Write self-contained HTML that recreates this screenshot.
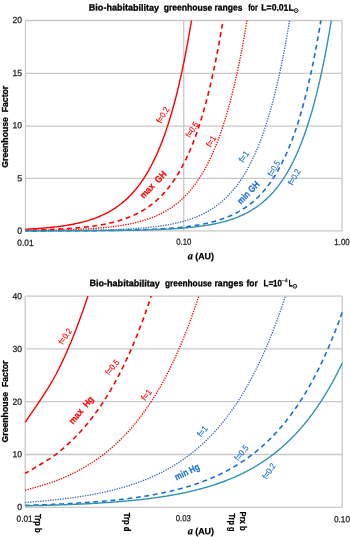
<!DOCTYPE html>
<html><head><meta charset="utf-8"><style>
html,body{margin:0;padding:0;background:#fff;width:350px;height:537px;overflow:hidden}
svg{display:block;font-family:"Liberation Sans",sans-serif;will-change:transform}
</style></head><body>
<svg width="350" height="537" viewBox="0 0 350 537">
<rect width="350" height="537" fill="#fff"/>
<line x1="25.5" y1="230.90" x2="342.0" y2="230.90" stroke="#c8c8c8" stroke-width="1.3"/>
<line x1="25.5" y1="178.40" x2="342.0" y2="178.40" stroke="#c8c8c8" stroke-width="1.3"/>
<line x1="25.5" y1="126.05" x2="342.0" y2="126.05" stroke="#c8c8c8" stroke-width="1.3"/>
<line x1="25.5" y1="73.35" x2="342.0" y2="73.35" stroke="#c8c8c8" stroke-width="1.3"/>
<line x1="25.5" y1="20.50" x2="342.0" y2="20.50" stroke="#c8c8c8" stroke-width="1.3"/>
<line x1="25.50" y1="20.5" x2="25.50" y2="230.9" stroke="#c8c8c8" stroke-width="1.3"/>
<line x1="342.00" y1="20.5" x2="342.00" y2="230.9" stroke="#c8c8c8" stroke-width="1.3"/>
<line x1="183.75" y1="20.5" x2="183.75" y2="230.9" stroke="#c8c8c8" stroke-width="1.3"/>
<path d="M25.50,229.22 L26.82,229.15 L28.14,229.09 L29.46,229.01 L30.78,228.94 L32.09,228.86 L33.41,228.78 L34.73,228.70 L36.05,228.62 L37.37,228.53 L38.69,228.43 L40.01,228.34 L41.33,228.24 L42.64,228.13 L43.96,228.02 L45.28,227.91 L46.60,227.80 L47.92,227.67 L49.24,227.55 L50.56,227.42 L51.88,227.28 L53.19,227.14 L54.51,226.99 L55.83,226.84 L57.15,226.68 L58.47,226.51 L59.79,226.34 L61.11,226.16 L62.43,225.98 L63.74,225.79 L65.06,225.59 L66.38,225.38 L67.70,225.16 L69.02,224.94 L70.34,224.71 L71.66,224.46 L72.98,224.21 L74.29,223.95 L75.61,223.68 L76.93,223.40 L78.25,223.10 L79.57,222.80 L80.89,222.48 L82.21,222.15 L83.53,221.81 L84.84,221.45 L86.16,221.08 L87.48,220.70 L88.80,220.30 L90.12,219.88 L91.44,219.45 L92.76,219.01 L94.08,218.54 L95.39,218.06 L96.71,217.55 L98.03,217.03 L99.35,216.49 L100.67,215.93 L101.99,215.34 L103.31,214.73 L104.62,214.10 L105.94,213.44 L107.26,212.76 L108.58,212.05 L109.90,211.31 L111.22,210.55 L112.54,209.75 L113.86,208.92 L115.17,208.06 L116.49,207.17 L117.81,206.24 L119.13,205.28 L120.45,204.27 L121.77,203.23 L123.09,202.15 L124.41,201.02 L125.72,199.86 L127.04,198.64 L128.36,197.38 L129.68,196.07 L131.00,194.70 L132.32,193.29 L133.64,191.82 L134.96,190.29 L136.27,188.70 L137.59,187.05 L138.91,185.33 L140.23,183.55 L141.55,181.70 L142.87,179.77 L144.19,177.77 L145.51,175.69 L146.82,173.53 L148.14,171.29 L149.46,168.96 L150.78,166.53 L152.10,164.02 L153.42,161.40 L154.74,158.68 L156.06,155.86 L157.38,152.92 L158.69,149.87 L160.01,146.70 L161.33,143.40 L162.65,139.98 L163.97,136.42 L165.29,132.73 L166.61,128.89 L167.92,124.90 L169.24,120.75 L170.56,116.44 L171.88,111.96 L173.20,107.31 L174.52,102.47 L175.84,97.45 L177.16,92.23 L178.48,86.80 L179.79,81.17 L181.11,75.31 L182.43,69.22 L183.75,62.90 L185.07,56.32 L186.39,49.49 L187.71,42.40 L189.03,35.02 L190.34,27.36 L191.48,20.50" stroke="#ff0000" stroke-width="1.4" fill="none"/>
<path d="M25.50,230.23 L26.82,230.20 L28.14,230.17 L29.46,230.15 L30.78,230.12 L32.09,230.09 L33.41,230.05 L34.73,230.02 L36.05,229.99 L37.37,229.95 L38.69,229.91 L40.01,229.87 L41.33,229.83 L42.64,229.79 L43.96,229.75 L45.28,229.70 L46.60,229.66 L47.92,229.61 L49.24,229.56 L50.56,229.51 L51.88,229.45 L53.19,229.40 L54.51,229.34 L55.83,229.28 L57.15,229.21 L58.47,229.15 L59.79,229.08 L61.11,229.01 L62.43,228.93 L63.74,228.85 L65.06,228.77 L66.38,228.69 L67.70,228.60 L69.02,228.51 L70.34,228.42 L71.66,228.32 L72.98,228.22 L74.29,228.12 L75.61,228.01 L76.93,227.90 L78.25,227.78 L79.57,227.66 L80.89,227.53 L82.21,227.40 L83.53,227.26 L84.84,227.12 L86.16,226.97 L87.48,226.82 L88.80,226.66 L90.12,226.49 L91.44,226.32 L92.76,226.14 L94.08,225.95 L95.39,225.76 L96.71,225.56 L98.03,225.35 L99.35,225.13 L100.67,224.91 L101.99,224.67 L103.31,224.43 L104.62,224.18 L105.94,223.91 L107.26,223.64 L108.58,223.36 L109.90,223.06 L111.22,222.76 L112.54,222.44 L113.86,222.11 L115.17,221.76 L116.49,221.40 L117.81,221.03 L119.13,220.65 L120.45,220.25 L121.77,219.83 L123.09,219.40 L124.41,218.95 L125.72,218.48 L127.04,217.99 L128.36,217.49 L129.68,216.96 L131.00,216.42 L132.32,215.85 L133.64,215.26 L134.96,214.65 L136.27,214.01 L137.59,213.35 L138.91,212.67 L140.23,211.95 L141.55,211.21 L142.87,210.44 L144.19,209.64 L145.51,208.81 L146.82,207.95 L148.14,207.05 L149.46,206.12 L150.78,205.15 L152.10,204.14 L153.42,203.09 L154.74,202.00 L156.06,200.87 L157.38,199.70 L158.69,198.48 L160.01,197.21 L161.33,195.89 L162.65,194.52 L163.97,193.10 L165.29,191.62 L166.61,190.08 L167.92,188.49 L169.24,186.83 L170.56,185.10 L171.88,183.31 L173.20,181.45 L174.52,179.51 L175.84,177.50 L177.16,175.41 L178.48,173.24 L179.79,170.99 L181.11,168.64 L182.43,166.21 L183.75,163.68 L185.07,161.05 L186.39,158.31 L187.71,155.47 L189.03,152.52 L190.34,149.46 L191.66,146.27 L192.98,142.96 L194.30,139.52 L195.62,135.95 L196.94,132.23 L198.26,128.37 L199.58,124.36 L200.89,120.19 L202.21,115.86 L203.53,111.36 L204.85,106.68 L206.17,101.82 L207.49,96.77 L208.81,91.53 L210.12,86.07 L211.44,80.41 L212.76,74.52 L214.08,68.40 L215.40,62.04 L216.72,55.44 L218.04,48.57 L219.36,41.44 L220.68,34.03 L221.99,26.33 L222.95,20.50" stroke="#ff0000" stroke-width="1.6" fill="none" stroke-dasharray="4.9 3.665" stroke-dashoffset="1.452"/>
<path d="M25.50,230.57 L26.82,230.55 L28.14,230.54 L29.46,230.52 L30.78,230.51 L32.09,230.49 L33.41,230.48 L34.73,230.46 L36.05,230.45 L37.37,230.43 L38.69,230.41 L40.01,230.39 L41.33,230.37 L42.64,230.35 L43.96,230.33 L45.28,230.31 L46.60,230.28 L47.92,230.26 L49.24,230.23 L50.56,230.21 L51.88,230.18 L53.19,230.15 L54.51,230.12 L55.83,230.09 L57.15,230.06 L58.47,230.03 L59.79,229.99 L61.11,229.96 L62.43,229.92 L63.74,229.88 L65.06,229.84 L66.38,229.80 L67.70,229.76 L69.02,229.71 L70.34,229.67 L71.66,229.62 L72.98,229.57 L74.29,229.52 L75.61,229.46 L76.93,229.41 L78.25,229.35 L79.57,229.29 L80.89,229.22 L82.21,229.16 L83.53,229.09 L84.84,229.02 L86.16,228.95 L87.48,228.87 L88.80,228.79 L90.12,228.71 L91.44,228.62 L92.76,228.53 L94.08,228.44 L95.39,228.34 L96.71,228.24 L98.03,228.14 L99.35,228.03 L100.67,227.92 L101.99,227.80 L103.31,227.68 L104.62,227.55 L105.94,227.42 L107.26,227.29 L108.58,227.15 L109.90,227.00 L111.22,226.85 L112.54,226.69 L113.86,226.52 L115.17,226.35 L116.49,226.17 L117.81,225.99 L119.13,225.80 L120.45,225.60 L121.77,225.39 L123.09,225.17 L124.41,224.95 L125.72,224.72 L127.04,224.48 L128.36,224.23 L129.68,223.96 L131.00,223.69 L132.32,223.41 L133.64,223.12 L134.96,222.81 L136.27,222.50 L137.59,222.17 L138.91,221.83 L140.23,221.47 L141.55,221.10 L142.87,220.72 L144.19,220.32 L145.51,219.91 L146.82,219.48 L148.14,219.03 L149.46,218.57 L150.78,218.08 L152.10,217.58 L153.42,217.06 L154.74,216.52 L156.06,215.96 L157.38,215.37 L158.69,214.76 L160.01,214.13 L161.33,213.48 L162.65,212.80 L163.97,212.09 L165.29,211.35 L166.61,210.59 L167.92,209.79 L169.24,208.97 L170.56,208.11 L171.88,207.22 L173.20,206.29 L174.52,205.33 L175.84,204.33 L177.16,203.29 L178.48,202.21 L179.79,201.08 L181.11,199.92 L182.43,198.71 L183.75,197.45 L185.07,196.14 L186.39,194.78 L187.71,193.36 L189.03,191.90 L190.34,190.37 L191.66,188.78 L192.98,187.14 L194.30,185.42 L195.62,183.65 L196.94,181.80 L198.26,179.88 L199.58,177.88 L200.89,175.81 L202.21,173.65 L203.53,171.41 L204.85,169.08 L206.17,166.66 L207.49,164.15 L208.81,161.54 L210.12,158.83 L211.44,156.01 L212.76,153.08 L214.08,150.03 L215.40,146.87 L216.72,143.58 L218.04,140.16 L219.36,136.61 L220.68,132.93 L221.99,129.09 L223.31,125.11 L224.63,120.97 L225.95,116.67 L227.27,112.20 L228.59,107.56 L229.91,102.73 L231.22,97.72 L232.54,92.51 L233.86,87.09 L235.18,81.47 L236.50,75.62 L237.82,69.55 L239.14,63.23 L240.46,56.68 L241.78,49.86 L243.09,42.78 L244.41,35.42 L245.73,27.77 L246.94,20.50" stroke="#ff0000" stroke-width="1.35" fill="none" stroke-dasharray="1.3 1.2"/>
<path d="M25.50,230.80 L26.82,230.80 L28.14,230.80 L29.46,230.79 L30.78,230.79 L32.09,230.78 L33.41,230.78 L34.73,230.77 L36.05,230.77 L37.37,230.76 L38.69,230.76 L40.01,230.75 L41.33,230.75 L42.64,230.74 L43.96,230.73 L45.28,230.73 L46.60,230.72 L47.92,230.71 L49.24,230.71 L50.56,230.70 L51.88,230.69 L53.19,230.68 L54.51,230.67 L55.83,230.67 L57.15,230.66 L58.47,230.65 L59.79,230.64 L61.11,230.63 L62.43,230.62 L63.74,230.61 L65.06,230.59 L66.38,230.58 L67.70,230.57 L69.02,230.56 L70.34,230.54 L71.66,230.53 L72.98,230.51 L74.29,230.50 L75.61,230.48 L76.93,230.47 L78.25,230.45 L79.57,230.43 L80.89,230.41 L82.21,230.40 L83.53,230.38 L84.84,230.36 L86.16,230.33 L87.48,230.31 L88.80,230.29 L90.12,230.27 L91.44,230.24 L92.76,230.21 L94.08,230.19 L95.39,230.16 L96.71,230.13 L98.03,230.10 L99.35,230.07 L100.67,230.04 L101.99,230.00 L103.31,229.97 L104.62,229.93 L105.94,229.89 L107.26,229.85 L108.58,229.81 L109.90,229.77 L111.22,229.73 L112.54,229.68 L113.86,229.63 L115.17,229.58 L116.49,229.53 L117.81,229.48 L119.13,229.42 L120.45,229.37 L121.77,229.31 L123.09,229.24 L124.41,229.18 L125.72,229.11 L127.04,229.04 L128.36,228.97 L129.68,228.89 L131.00,228.81 L132.32,228.73 L133.64,228.65 L134.96,228.56 L136.27,228.47 L137.59,228.37 L138.91,228.27 L140.23,228.17 L141.55,228.07 L142.87,227.95 L144.19,227.84 L145.51,227.72 L146.82,227.60 L148.14,227.47 L149.46,227.33 L150.78,227.19 L152.10,227.05 L153.42,226.90 L154.74,226.74 L156.06,226.58 L157.38,226.41 L158.69,226.23 L160.01,226.05 L161.33,225.86 L162.65,225.66 L163.97,225.46 L165.29,225.24 L166.61,225.02 L167.92,224.79 L169.24,224.55 L170.56,224.31 L171.88,224.05 L173.20,223.78 L174.52,223.50 L175.84,223.21 L177.16,222.91 L178.48,222.60 L179.79,222.27 L181.11,221.94 L182.43,221.59 L183.75,221.22 L185.07,220.84 L186.39,220.45 L187.71,220.04 L189.03,219.62 L190.34,219.17 L191.66,218.72 L192.98,218.24 L194.30,217.74 L195.62,217.23 L196.94,216.69 L198.26,216.14 L199.58,215.56 L200.89,214.96 L202.21,214.34 L203.53,213.69 L204.85,213.02 L206.17,212.32 L207.49,211.59 L208.81,210.83 L210.12,210.05 L211.44,209.23 L212.76,208.39 L214.08,207.50 L215.40,206.59 L216.72,205.64 L218.04,204.65 L219.36,203.62 L220.68,202.56 L221.99,201.45 L223.31,200.29 L224.63,199.10 L225.95,197.85 L227.27,196.56 L228.59,195.22 L229.91,193.82 L231.22,192.37 L232.54,190.86 L233.86,189.30 L235.18,187.67 L236.50,185.98 L237.82,184.22 L239.14,182.39 L240.46,180.50 L241.78,178.52 L243.09,176.47 L244.41,174.35 L245.73,172.13 L247.05,169.83 L248.37,167.44 L249.69,164.96 L251.01,162.38 L252.32,159.70 L253.64,156.92 L254.96,154.02 L256.28,151.01 L257.60,147.89 L258.92,144.64 L260.24,141.27 L261.56,137.76 L262.88,134.12 L264.19,130.33 L265.51,126.40 L266.83,122.31 L268.15,118.06 L269.47,113.64 L270.79,109.06 L272.11,104.29 L273.43,99.34 L274.74,94.19 L276.06,88.84 L277.38,83.28 L278.70,77.51 L280.02,71.51 L281.34,65.27 L282.66,58.79 L283.98,52.06 L285.29,45.06 L286.61,37.79 L287.93,30.24 L289.25,22.39 L289.55,20.50" stroke="#3d68b8" stroke-width="1.35" fill="none" stroke-dasharray="1.3 1.2"/>
<path d="M25.50,230.86 L26.82,230.86 L28.14,230.86 L29.46,230.86 L30.78,230.85 L32.09,230.85 L33.41,230.85 L34.73,230.85 L36.05,230.85 L37.37,230.85 L38.69,230.84 L40.01,230.84 L41.33,230.84 L42.64,230.84 L43.96,230.83 L45.28,230.83 L46.60,230.83 L47.92,230.83 L49.24,230.82 L50.56,230.82 L51.88,230.82 L53.19,230.81 L54.51,230.81 L55.83,230.81 L57.15,230.80 L58.47,230.80 L59.79,230.79 L61.11,230.79 L62.43,230.79 L63.74,230.78 L65.06,230.78 L66.38,230.77 L67.70,230.77 L69.02,230.76 L70.34,230.76 L71.66,230.75 L72.98,230.75 L74.29,230.74 L75.61,230.73 L76.93,230.73 L78.25,230.72 L79.57,230.71 L80.89,230.70 L82.21,230.70 L83.53,230.69 L84.84,230.68 L86.16,230.67 L87.48,230.66 L88.80,230.65 L90.12,230.64 L91.44,230.63 L92.76,230.62 L94.08,230.61 L95.39,230.60 L96.71,230.59 L98.03,230.58 L99.35,230.57 L100.67,230.55 L101.99,230.54 L103.31,230.53 L104.62,230.51 L105.94,230.50 L107.26,230.48 L108.58,230.46 L109.90,230.45 L111.22,230.43 L112.54,230.41 L113.86,230.39 L115.17,230.37 L116.49,230.35 L117.81,230.33 L119.13,230.31 L120.45,230.28 L121.77,230.26 L123.09,230.23 L124.41,230.21 L125.72,230.18 L127.04,230.15 L128.36,230.12 L129.68,230.09 L131.00,230.06 L132.32,230.03 L133.64,229.99 L134.96,229.96 L136.27,229.92 L137.59,229.88 L138.91,229.84 L140.23,229.80 L141.55,229.76 L142.87,229.72 L144.19,229.67 L145.51,229.62 L146.82,229.57 L148.14,229.52 L149.46,229.46 L150.78,229.41 L152.10,229.35 L153.42,229.29 L154.74,229.23 L156.06,229.16 L157.38,229.09 L158.69,229.02 L160.01,228.95 L161.33,228.87 L162.65,228.79 L163.97,228.71 L165.29,228.63 L166.61,228.54 L167.92,228.44 L169.24,228.35 L170.56,228.25 L171.88,228.14 L173.20,228.04 L174.52,227.92 L175.84,227.81 L177.16,227.69 L178.48,227.56 L179.79,227.43 L181.11,227.30 L182.43,227.15 L183.75,227.01 L185.07,226.86 L186.39,226.70 L187.71,226.53 L189.03,226.36 L190.34,226.18 L191.66,226.00 L192.98,225.81 L194.30,225.61 L195.62,225.40 L196.94,225.19 L198.26,224.96 L199.58,224.73 L200.89,224.49 L202.21,224.24 L203.53,223.98 L204.85,223.71 L206.17,223.43 L207.49,223.13 L208.81,222.83 L210.12,222.51 L211.44,222.19 L212.76,221.85 L214.08,221.49 L215.40,221.12 L216.72,220.74 L218.04,220.34 L219.36,219.93 L220.68,219.50 L221.99,219.05 L223.31,218.59 L224.63,218.11 L225.95,217.61 L227.27,217.09 L228.59,216.55 L229.91,215.99 L231.22,215.40 L232.54,214.80 L233.86,214.17 L235.18,213.51 L236.50,212.83 L237.82,212.13 L239.14,211.39 L240.46,210.63 L241.78,209.84 L243.09,209.01 L244.41,208.16 L245.73,207.27 L247.05,206.34 L248.37,205.38 L249.69,204.38 L251.01,203.34 L252.32,202.27 L253.64,201.15 L254.96,199.98 L256.28,198.77 L257.60,197.52 L258.92,196.21 L260.24,194.85 L261.56,193.44 L262.88,191.98 L264.19,190.45 L265.51,188.87 L266.83,187.23 L268.15,185.52 L269.47,183.74 L270.79,181.90 L272.11,179.98 L273.43,177.99 L274.74,175.92 L276.06,173.77 L277.38,171.53 L278.70,169.21 L280.02,166.80 L281.34,164.29 L282.66,161.68 L283.98,158.97 L285.29,156.16 L286.61,153.24 L287.93,150.20 L289.25,147.04 L290.57,143.76 L291.89,140.35 L293.21,136.81 L294.52,133.13 L295.84,129.30 L297.16,125.33 L298.48,121.20 L299.80,116.91 L301.12,112.45 L302.44,107.81 L303.76,103.00 L305.07,97.99 L306.39,92.79 L307.71,87.39 L309.03,81.77 L310.35,75.94 L311.67,69.88 L312.99,63.58 L314.31,57.03 L315.62,50.23 L316.94,43.16 L318.26,35.82 L319.58,28.19 L320.86,20.50" stroke="#1a6fcf" stroke-width="1.6" fill="none" stroke-dasharray="4.9 3.665" stroke-dashoffset="1.96"/>
<path d="M25.50,230.87 L26.82,230.87 L28.14,230.87 L29.46,230.87 L30.78,230.87 L32.09,230.87 L33.41,230.86 L34.73,230.86 L36.05,230.86 L37.37,230.86 L38.69,230.86 L40.01,230.86 L41.33,230.85 L42.64,230.85 L43.96,230.85 L45.28,230.85 L46.60,230.85 L47.92,230.84 L49.24,230.84 L50.56,230.84 L51.88,230.84 L53.19,230.84 L54.51,230.83 L55.83,230.83 L57.15,230.83 L58.47,230.83 L59.79,230.82 L61.11,230.82 L62.43,230.82 L63.74,230.81 L65.06,230.81 L66.38,230.81 L67.70,230.80 L69.02,230.80 L70.34,230.79 L71.66,230.79 L72.98,230.79 L74.29,230.78 L75.61,230.78 L76.93,230.77 L78.25,230.77 L79.57,230.76 L80.89,230.76 L82.21,230.75 L83.53,230.74 L84.84,230.74 L86.16,230.73 L87.48,230.73 L88.80,230.72 L90.12,230.71 L91.44,230.70 L92.76,230.70 L94.08,230.69 L95.39,230.68 L96.71,230.67 L98.03,230.66 L99.35,230.65 L100.67,230.64 L101.99,230.63 L103.31,230.62 L104.62,230.61 L105.94,230.60 L107.26,230.59 L108.58,230.58 L109.90,230.57 L111.22,230.55 L112.54,230.54 L113.86,230.52 L115.17,230.51 L116.49,230.49 L117.81,230.48 L119.13,230.46 L120.45,230.44 L121.77,230.43 L123.09,230.41 L124.41,230.39 L125.72,230.37 L127.04,230.35 L128.36,230.33 L129.68,230.30 L131.00,230.28 L132.32,230.26 L133.64,230.23 L134.96,230.21 L136.27,230.18 L137.59,230.15 L138.91,230.12 L140.23,230.09 L141.55,230.06 L142.87,230.03 L144.19,229.99 L145.51,229.96 L146.82,229.92 L148.14,229.88 L149.46,229.84 L150.78,229.80 L152.10,229.76 L153.42,229.71 L154.74,229.67 L156.06,229.62 L157.38,229.57 L158.69,229.51 L160.01,229.46 L161.33,229.40 L162.65,229.35 L163.97,229.28 L165.29,229.22 L166.61,229.16 L167.92,229.09 L169.24,229.02 L170.56,228.94 L171.88,228.87 L173.20,228.79 L174.52,228.70 L175.84,228.62 L177.16,228.53 L178.48,228.44 L179.79,228.34 L181.11,228.24 L182.43,228.14 L183.75,228.03 L185.07,227.92 L186.39,227.80 L187.71,227.68 L189.03,227.55 L190.34,227.42 L191.66,227.28 L192.98,227.14 L194.30,227.00 L195.62,226.84 L196.94,226.68 L198.26,226.52 L199.58,226.35 L200.89,226.17 L202.21,225.99 L203.53,225.79 L204.85,225.59 L206.17,225.39 L207.49,225.17 L208.81,224.95 L210.12,224.71 L211.44,224.47 L212.76,224.22 L214.08,223.96 L215.40,223.69 L216.72,223.40 L218.04,223.11 L219.36,222.81 L220.68,222.49 L221.99,222.16 L223.31,221.82 L224.63,221.46 L225.95,221.09 L227.27,220.71 L228.59,220.31 L229.91,219.90 L231.22,219.47 L232.54,219.02 L233.86,218.55 L235.18,218.07 L236.50,217.57 L237.82,217.05 L239.14,216.51 L240.46,215.94 L241.78,215.36 L243.09,214.75 L244.41,214.12 L245.73,213.46 L247.05,212.78 L248.37,212.07 L249.69,211.33 L251.01,210.57 L252.32,209.77 L253.64,208.95 L254.96,208.09 L256.28,207.19 L257.60,206.27 L258.92,205.30 L260.24,204.30 L261.56,203.26 L262.88,202.18 L264.19,201.06 L265.51,199.89 L266.83,198.68 L268.15,197.42 L269.47,196.11 L270.79,194.74 L272.11,193.33 L273.43,191.86 L274.74,190.33 L276.06,188.75 L277.38,187.10 L278.70,185.38 L280.02,183.60 L281.34,181.75 L282.66,179.83 L283.98,177.83 L285.29,175.75 L286.61,173.60 L287.93,171.36 L289.25,169.03 L290.57,166.60 L291.89,164.09 L293.21,161.48 L294.52,158.76 L295.84,155.94 L297.16,153.00 L298.48,149.96 L299.80,146.79 L301.12,143.50 L302.44,140.08 L303.76,136.53 L305.07,132.84 L306.39,129.00 L307.71,125.01 L309.03,120.87 L310.35,116.57 L311.67,112.09 L312.99,107.44 L314.31,102.61 L315.62,97.60 L316.94,92.38 L318.26,86.96 L319.58,81.33 L320.90,75.48 L322.22,69.40 L323.54,63.08 L324.86,56.51 L326.18,49.69 L327.49,42.60 L328.81,35.24 L330.13,27.58 L331.31,20.50" stroke="#3392b0" stroke-width="1.4" fill="none"/>
<line x1="25.2" y1="507.30" x2="342.2" y2="507.30" stroke="#c8c8c8" stroke-width="1.3"/>
<line x1="25.2" y1="454.50" x2="342.2" y2="454.50" stroke="#c8c8c8" stroke-width="1.3"/>
<line x1="25.2" y1="401.70" x2="342.2" y2="401.70" stroke="#c8c8c8" stroke-width="1.3"/>
<line x1="25.2" y1="348.90" x2="342.2" y2="348.90" stroke="#c8c8c8" stroke-width="1.3"/>
<line x1="25.2" y1="296.10" x2="342.2" y2="296.10" stroke="#c8c8c8" stroke-width="1.3"/>
<line x1="25.20" y1="296.1" x2="25.20" y2="507.3" stroke="#c8c8c8" stroke-width="1.3"/>
<line x1="342.20" y1="296.1" x2="342.20" y2="507.3" stroke="#c8c8c8" stroke-width="1.3"/>
<path d="M25.20,422.29 L26.70,420.02 L28.61,417.21 L30.85,413.95 L33.37,410.29 L36.11,406.30 L38.99,402.04 L41.96,397.57 L44.96,392.97 L47.92,388.30 L50.77,383.61 L53.46,378.98 L55.92,374.48 L58.22,370.01 L60.47,365.47 L62.68,360.86 L64.85,356.17 L66.97,351.42 L69.06,346.58 L71.12,341.67 L73.15,336.69 L75.15,331.64 L77.13,326.51 L79.08,321.31 L81.02,316.03 L82.93,310.68 L84.82,305.26 L86.67,299.76 L87.86,296.10" stroke="#ff0000" stroke-width="1.4" fill="none"/>
<path d="M25.20,473.40 L26.70,472.49 L28.61,471.38 L30.85,470.08 L33.37,468.62 L36.11,467.02 L38.99,465.33 L41.96,463.55 L44.96,461.71 L47.92,459.85 L50.77,457.98 L53.46,456.13 L55.92,454.34 L58.22,452.55 L60.47,450.75 L62.68,448.91 L64.85,447.04 L66.97,445.14 L69.06,443.21 L71.12,441.26 L73.15,439.27 L75.15,437.25 L77.13,435.21 L79.08,433.13 L81.02,431.03 L82.93,428.90 L84.82,426.73 L86.67,424.54 L88.49,422.32 L90.28,420.07 L92.05,417.79 L93.80,415.48 L95.52,413.14 L97.23,410.77 L98.92,408.37 L100.59,405.95 L102.24,403.49 L103.88,401.00 L105.50,398.49 L107.09,395.94 L108.66,393.37 L110.21,390.76 L111.75,388.13 L113.26,385.47 L114.76,382.77 L116.25,380.05 L117.72,377.30 L119.18,374.52 L120.63,371.71 L122.06,368.87 L123.47,366.00 L124.87,363.10 L126.26,360.18 L127.62,357.22 L128.98,354.23 L130.32,351.22 L131.64,348.17 L132.96,345.09 L134.26,341.99 L135.56,338.86 L136.84,335.69 L138.11,332.50 L139.37,329.28 L140.62,326.03 L141.85,322.75 L143.08,319.44 L144.29,316.10 L145.49,312.73 L146.68,309.33 L147.86,305.90 L149.03,302.44 L150.19,298.96 L151.13,296.10" stroke="#ff0000" stroke-width="1.6" fill="none" stroke-dasharray="4.9 3.665" stroke-dashoffset="0.907"/>
<path d="M25.20,490.35 L26.70,489.90 L28.61,489.34 L30.85,488.69 L33.37,487.96 L36.11,487.16 L38.99,486.31 L41.96,485.42 L44.96,484.51 L47.92,483.57 L50.77,482.64 L53.46,481.72 L55.92,480.82 L58.22,479.93 L60.47,479.02 L62.68,478.10 L64.85,477.17 L66.97,476.22 L69.06,475.26 L71.12,474.28 L73.15,473.28 L75.15,472.28 L77.13,471.25 L79.08,470.22 L81.02,469.17 L82.93,468.10 L84.82,467.02 L86.67,465.92 L88.49,464.81 L90.28,463.68 L92.05,462.54 L93.80,461.39 L95.52,460.22 L97.23,459.04 L98.92,457.84 L100.59,456.62 L102.24,455.39 L103.88,454.15 L105.50,452.89 L107.09,451.62 L108.66,450.33 L110.21,449.03 L111.75,447.71 L113.26,446.38 L114.76,445.04 L116.25,443.68 L117.72,442.30 L119.18,440.91 L120.63,439.50 L122.06,438.09 L123.47,436.65 L124.87,435.20 L126.26,433.74 L127.62,432.26 L128.98,430.77 L130.32,429.26 L131.64,427.73 L132.96,426.20 L134.26,424.65 L135.56,423.08 L136.84,421.50 L138.11,419.90 L139.37,418.29 L140.62,416.66 L141.85,415.02 L143.08,413.37 L144.29,411.70 L145.49,410.01 L146.68,408.31 L147.86,406.60 L149.03,404.87 L150.19,403.13 L151.35,401.37 L152.49,399.60 L153.63,397.81 L154.75,396.01 L155.87,394.19 L156.97,392.36 L158.07,390.51 L159.15,388.65 L160.23,386.78 L161.30,384.88 L162.36,382.98 L163.42,381.06 L164.47,379.12 L165.51,377.18 L166.54,375.21 L167.57,373.23 L168.58,371.24 L169.59,369.23 L170.59,367.21 L171.58,365.17 L172.57,363.12 L173.55,361.05 L174.52,358.97 L175.49,356.87 L176.45,354.76 L177.40,352.63 L178.35,350.49 L179.29,348.34 L180.22,346.17 L181.15,343.98 L182.07,341.78 L182.98,339.57 L183.89,337.34 L184.79,335.10 L185.69,332.84 L186.58,330.57 L187.47,328.28 L188.35,325.98 L189.22,323.66 L190.09,321.33 L190.95,318.98 L191.81,316.62 L192.66,314.24 L193.51,311.85 L194.35,309.45 L195.19,307.03 L196.02,304.59 L196.85,302.14 L197.67,299.68 L198.49,297.20 L198.85,296.10" stroke="#ff0000" stroke-width="1.35" fill="none" stroke-dasharray="1.3 1.2"/>
<path d="M25.20,502.48 L26.70,502.35 L28.61,502.19 L30.85,502.01 L33.37,501.80 L36.11,501.57 L38.99,501.33 L41.96,501.08 L44.96,500.82 L47.92,500.55 L50.77,500.29 L53.46,500.03 L55.92,499.77 L58.22,499.52 L60.47,499.26 L62.68,499.00 L64.85,498.73 L66.97,498.46 L69.06,498.19 L71.12,497.91 L73.15,497.63 L75.15,497.34 L77.13,497.05 L79.08,496.76 L81.02,496.46 L82.93,496.16 L84.82,495.85 L86.67,495.54 L88.49,495.22 L90.28,494.90 L92.05,494.58 L93.80,494.25 L95.52,493.92 L97.23,493.58 L98.92,493.24 L100.59,492.89 L102.24,492.54 L103.88,492.19 L105.50,491.83 L107.09,491.47 L108.66,491.10 L110.21,490.73 L111.75,490.36 L113.26,489.98 L114.76,489.60 L116.25,489.21 L117.72,488.82 L119.18,488.43 L120.63,488.03 L122.06,487.62 L123.47,487.21 L124.87,486.80 L126.26,486.39 L127.62,485.97 L128.98,485.54 L130.32,485.11 L131.64,484.68 L132.96,484.24 L134.26,483.80 L135.56,483.36 L136.84,482.91 L138.11,482.45 L139.37,481.99 L140.62,481.53 L141.85,481.07 L143.08,480.60 L144.29,480.12 L145.49,479.64 L146.68,479.16 L147.86,478.67 L149.03,478.18 L150.19,477.68 L151.35,477.18 L152.49,476.68 L153.63,476.17 L154.75,475.66 L155.87,475.14 L156.97,474.62 L158.07,474.10 L159.15,473.57 L160.23,473.03 L161.30,472.50 L162.36,471.96 L163.42,471.41 L164.47,470.86 L165.51,470.31 L166.54,469.75 L167.57,469.18 L168.58,468.62 L169.59,468.05 L170.59,467.47 L171.58,466.89 L172.57,466.31 L173.55,465.72 L174.52,465.13 L175.49,464.53 L176.45,463.93 L177.40,463.33 L178.35,462.72 L179.29,462.11 L180.22,461.49 L181.15,460.87 L182.07,460.24 L182.98,459.61 L183.89,458.98 L184.79,458.34 L185.69,457.70 L186.58,457.05 L187.47,456.40 L188.35,455.75 L189.22,455.09 L190.09,454.43 L190.95,453.76 L191.81,453.09 L192.66,452.41 L193.51,451.73 L194.35,451.05 L195.19,450.36 L196.02,449.67 L196.85,448.97 L197.67,448.27 L198.49,447.57 L199.30,446.86 L200.11,446.15 L200.91,445.43 L201.71,444.71 L202.50,443.98 L203.29,443.25 L204.07,442.52 L204.85,441.78 L205.63,441.04 L206.40,440.29 L207.17,439.54 L207.93,438.78 L208.69,438.03 L209.44,437.26 L210.19,436.49 L210.94,435.72 L211.68,434.95 L212.42,434.17 L213.15,433.38 L213.88,432.59 L214.61,431.80 L215.33,431.00 L216.05,430.20 L216.77,429.40 L217.48,428.59 L218.19,427.78 L218.89,426.96 L219.59,426.14 L220.29,425.31 L220.98,424.48 L221.67,423.64 L222.36,422.81 L223.04,421.96 L223.72,421.12 L224.40,420.27 L225.07,419.41 L225.74,418.55 L226.41,417.69 L227.07,416.82 L227.73,415.95 L228.39,415.07 L229.04,414.19 L229.69,413.31 L230.34,412.42 L230.99,411.52 L231.63,410.63 L232.27,409.72 L232.90,408.82 L233.54,407.91 L234.17,407.00 L234.80,406.08 L235.42,405.16 L236.04,404.23 L236.66,403.30 L237.27,402.36 L237.89,401.42 L238.50,400.48 L239.11,399.53 L239.71,398.58 L240.31,397.63 L240.91,396.67 L241.51,395.70 L242.11,394.73 L242.70,393.76 L243.29,392.78 L243.87,391.80 L244.46,390.82 L245.04,389.83 L245.62,388.84 L246.20,387.84 L246.77,386.84 L247.35,385.83 L247.92,384.82 L248.48,383.81 L249.05,382.79 L249.61,381.77 L250.17,380.74 L250.73,379.71 L251.29,378.67 L251.84,377.63 L252.39,376.59 L252.94,375.54 L253.49,374.49 L254.04,373.43 L254.58,372.37 L255.12,371.31 L255.66,370.24 L256.20,369.17 L256.73,368.09 L257.26,367.01 L257.79,365.92 L258.32,364.83 L258.85,363.74 L259.37,362.64 L259.89,361.54 L260.42,360.43 L260.93,359.32 L261.45,358.21 L261.97,357.09 L262.48,355.97 L262.99,354.84 L263.50,353.71 L264.00,352.57 L264.51,351.43 L265.01,350.29 L265.51,349.14 L266.01,347.99 L266.51,346.83 L267.01,345.67 L267.50,344.51 L268.00,343.34 L268.49,342.16 L268.98,340.99 L269.46,339.80 L269.95,338.62 L270.43,337.43 L270.91,336.23 L271.39,335.04 L271.87,333.83 L272.35,332.63 L272.83,331.42 L273.30,330.20 L273.77,328.98 L274.24,327.76 L274.71,326.53 L275.18,325.30 L275.65,324.06 L276.11,322.82 L276.57,321.58 L277.03,320.33 L277.49,319.08 L277.95,317.82 L278.41,316.56 L278.86,315.29 L279.32,314.02 L279.77,312.75 L280.22,311.47 L280.67,310.19 L281.12,308.90 L281.56,307.61 L282.01,306.32 L282.45,305.02 L282.89,303.72 L283.33,302.41 L283.77,301.10 L284.21,299.78 L284.65,298.46 L285.08,297.14 L285.42,296.10" stroke="#3d68b8" stroke-width="1.35" fill="none" stroke-dasharray="1.3 1.2"/>
<path d="M25.20,505.35 L26.70,505.30 L28.61,505.23 L30.85,505.16 L33.37,505.08 L36.11,504.98 L38.99,504.89 L41.96,504.78 L44.96,504.68 L47.92,504.57 L50.77,504.46 L53.46,504.36 L55.92,504.25 L58.22,504.15 L60.47,504.05 L62.68,503.94 L64.85,503.83 L66.97,503.73 L69.06,503.61 L71.12,503.50 L73.15,503.39 L75.15,503.27 L77.13,503.15 L79.08,503.03 L81.02,502.91 L82.93,502.79 L84.82,502.67 L86.67,502.54 L88.49,502.41 L90.28,502.28 L92.05,502.15 L93.80,502.02 L95.52,501.89 L97.23,501.75 L98.92,501.61 L100.59,501.47 L102.24,501.33 L103.88,501.19 L105.50,501.04 L107.09,500.90 L108.66,500.75 L110.21,500.60 L111.75,500.45 L113.26,500.29 L114.76,500.14 L116.25,499.98 L117.72,499.82 L119.18,499.66 L120.63,499.50 L122.06,499.34 L123.47,499.17 L124.87,499.01 L126.26,498.84 L127.62,498.67 L128.98,498.50 L130.32,498.32 L131.64,498.15 L132.96,497.97 L134.26,497.79 L135.56,497.61 L136.84,497.43 L138.11,497.25 L139.37,497.06 L140.62,496.88 L141.85,496.69 L143.08,496.50 L144.29,496.30 L145.49,496.11 L146.68,495.92 L147.86,495.72 L149.03,495.52 L150.19,495.32 L151.35,495.12 L152.49,494.91 L153.63,494.71 L154.75,494.50 L155.87,494.29 L156.97,494.08 L158.07,493.87 L159.15,493.65 L160.23,493.44 L161.30,493.22 L162.36,493.00 L163.42,492.78 L164.47,492.56 L165.51,492.33 L166.54,492.11 L167.57,491.88 L168.58,491.65 L169.59,491.42 L170.59,491.19 L171.58,490.95 L172.57,490.72 L173.55,490.48 L174.52,490.24 L175.49,490.00 L176.45,489.76 L177.40,489.51 L178.35,489.26 L179.29,489.02 L180.22,488.77 L181.15,488.52 L182.07,488.26 L182.98,488.01 L183.89,487.75 L184.79,487.49 L185.69,487.23 L186.58,486.97 L187.47,486.71 L188.35,486.44 L189.22,486.18 L190.09,485.91 L190.95,485.64 L191.81,485.37 L192.66,485.10 L193.51,484.82 L194.35,484.54 L195.19,484.27 L196.02,483.99 L196.85,483.70 L197.67,483.42 L198.49,483.14 L199.30,482.85 L200.11,482.56 L200.91,482.27 L201.71,481.98 L202.50,481.68 L203.29,481.39 L204.07,481.09 L204.85,480.79 L205.63,480.49 L206.40,480.19 L207.17,479.89 L207.93,479.58 L208.69,479.27 L209.44,478.97 L210.19,478.66 L210.94,478.34 L211.68,478.03 L212.42,477.71 L213.15,477.40 L213.88,477.08 L214.61,476.76 L215.33,476.43 L216.05,476.11 L216.77,475.78 L217.48,475.46 L218.19,475.13 L218.89,474.80 L219.59,474.46 L220.29,474.13 L220.98,473.79 L221.67,473.46 L222.36,473.12 L223.04,472.78 L223.72,472.43 L224.40,472.09 L225.07,471.74 L225.74,471.40 L226.41,471.05 L227.07,470.70 L227.73,470.34 L228.39,469.99 L229.04,469.63 L229.69,469.27 L230.34,468.91 L230.99,468.55 L231.63,468.19 L232.27,467.83 L232.90,467.46 L233.54,467.09 L234.17,466.72 L234.80,466.35 L235.42,465.98 L236.04,465.60 L236.66,465.23 L237.27,464.85 L237.89,464.47 L238.50,464.09 L239.11,463.70 L239.71,463.32 L240.31,462.93 L240.91,462.54 L241.51,462.15 L242.11,461.76 L242.70,461.37 L243.29,460.97 L243.87,460.58 L244.46,460.18 L245.04,459.78 L245.62,459.37 L246.20,458.97 L246.77,458.57 L247.35,458.16 L247.92,457.75 L248.48,457.34 L249.05,456.93 L249.61,456.51 L250.17,456.10 L250.73,455.68 L251.29,455.26 L251.84,454.84 L252.39,454.42 L252.94,454.00 L253.49,453.57 L254.04,453.14 L254.58,452.71 L255.12,452.28 L255.66,451.85 L256.20,451.42 L256.73,450.98 L257.26,450.54 L257.79,450.10 L258.32,449.66 L258.85,449.22 L259.37,448.78 L259.89,448.33 L260.42,447.88 L260.93,447.43 L261.45,446.98 L261.97,446.53 L262.48,446.08 L262.99,445.62 L263.50,445.16 L264.00,444.70 L264.51,444.24 L265.01,443.78 L265.51,443.31 L266.01,442.85 L266.51,442.38 L267.01,441.91 L267.50,441.44 L268.00,440.97 L268.49,440.49 L268.98,440.02 L269.46,439.54 L269.95,439.06 L270.43,438.58 L270.91,438.09 L271.39,437.61 L271.87,437.12 L272.35,436.63 L272.83,436.14 L273.30,435.65 L273.77,435.16 L274.24,434.66 L274.71,434.17 L275.18,433.67 L275.65,433.17 L276.11,432.67 L276.57,432.16 L277.03,431.66 L277.49,431.15 L277.95,430.64 L278.41,430.13 L278.86,429.62 L279.32,429.11 L279.77,428.59 L280.22,428.08 L280.67,427.56 L281.12,427.04 L281.56,426.52 L282.01,425.99 L282.45,425.47 L282.89,424.94 L283.33,424.41 L283.77,423.88 L284.21,423.35 L284.65,422.81 L285.08,422.28 L285.52,421.74 L285.95,421.20 L286.38,420.66 L286.81,420.12 L287.24,419.57 L287.66,419.03 L288.09,418.48 L288.51,417.93 L288.94,417.38 L289.36,416.83 L289.78,416.27 L290.20,415.72 L290.62,415.16 L291.03,414.60 L291.45,414.04 L291.86,413.48 L292.27,412.91 L292.69,412.35 L293.10,411.78 L293.51,411.21 L293.91,410.64 L294.32,410.07 L294.73,409.49 L295.13,408.92 L295.53,408.34 L295.93,407.76 L296.34,407.18 L296.74,406.59 L297.13,406.01 L297.53,405.42 L297.93,404.84 L298.32,404.25 L298.72,403.65 L299.11,403.06 L299.50,402.47 L299.89,401.87 L300.28,401.27 L300.67,400.67 L301.06,400.07 L301.44,399.47 L301.83,398.86 L302.21,398.26 L302.59,397.65 L302.98,397.04 L303.36,396.43 L303.74,395.81 L304.12,395.20 L304.49,394.58 L304.87,393.96 L305.25,393.34 L305.62,392.72 L305.99,392.10 L306.37,391.47 L306.74,390.84 L307.11,390.22 L307.48,389.59 L307.85,388.95 L308.21,388.32 L308.58,387.68 L308.95,387.05 L309.31,386.41 L309.68,385.77 L310.04,385.13 L310.40,384.48 L310.76,383.84 L311.12,383.19 L311.48,382.54 L311.84,381.89 L312.19,381.24 L312.55,380.58 L312.91,379.93 L313.26,379.27 L313.61,378.61 L313.97,377.95 L314.32,377.29 L314.67,376.62 L315.02,375.96 L315.37,375.29 L315.72,374.62 L316.06,373.95 L316.41,373.28 L316.76,372.60 L317.10,371.93 L317.44,371.25 L317.79,370.57 L318.13,369.89 L318.47,369.21 L318.81,368.52 L319.15,367.84 L319.49,367.15 L319.83,366.46 L320.16,365.77 L320.50,365.07 L320.83,364.38 L321.17,363.68 L321.50,362.98 L321.84,362.28 L322.17,361.58 L322.50,360.88 L322.83,360.18 L323.16,359.47 L323.49,358.76 L323.82,358.05 L324.14,357.34 L324.47,356.63 L324.80,355.91 L325.12,355.19 L325.45,354.48 L325.77,353.76 L326.09,353.03 L326.41,352.31 L326.74,351.59 L327.06,350.86 L327.38,350.13 L327.69,349.40 L328.01,348.67 L328.33,347.94 L328.65,347.20 L328.96,346.46 L329.28,345.72 L329.59,344.98 L329.91,344.24 L330.22,343.50 L330.53,342.75 L330.85,342.01 L331.16,341.26 L331.47,340.51 L331.78,339.75 L332.09,339.00 L332.39,338.24 L332.70,337.49 L333.01,336.73 L333.31,335.97 L333.62,335.21 L333.93,334.44 L334.23,333.68 L334.53,332.91 L334.84,332.14 L335.14,331.37 L335.44,330.60 L335.74,329.82 L336.04,329.05 L336.34,328.27 L336.64,327.49 L336.94,326.71 L337.24,325.93 L337.53,325.14 L337.83,324.36 L338.12,323.57 L338.42,322.78 L338.71,321.99 L339.02,321.16 L339.34,320.29 L339.67,319.37 L340.01,318.44 L340.35,317.51 L340.68,316.59 L341.00,315.70 L341.30,314.87 L341.58,314.10 L341.82,313.41 L342.03,312.83 L342.20,312.36" stroke="#1a6fcf" stroke-width="1.6" fill="none" stroke-dasharray="4.9 3.665" stroke-dashoffset="0.314"/>
<path d="M25.20,505.86 L26.70,505.82 L28.61,505.77 L30.85,505.72 L33.37,505.66 L36.11,505.59 L38.99,505.52 L41.96,505.44 L44.96,505.36 L47.92,505.28 L50.77,505.20 L53.46,505.12 L55.92,505.05 L58.22,504.97 L60.47,504.90 L62.68,504.82 L64.85,504.74 L66.97,504.66 L69.06,504.57 L71.12,504.49 L73.15,504.41 L75.15,504.32 L77.13,504.23 L79.08,504.15 L81.02,504.06 L82.93,503.97 L84.82,503.87 L86.67,503.78 L88.49,503.69 L90.28,503.59 L92.05,503.49 L93.80,503.40 L95.52,503.30 L97.23,503.20 L98.92,503.09 L100.59,502.99 L102.24,502.89 L103.88,502.78 L105.50,502.67 L107.09,502.56 L108.66,502.46 L110.21,502.34 L111.75,502.23 L113.26,502.12 L114.76,502.00 L116.25,501.89 L117.72,501.77 L119.18,501.65 L120.63,501.53 L122.06,501.41 L123.47,501.29 L124.87,501.17 L126.26,501.04 L127.62,500.92 L128.98,500.79 L130.32,500.66 L131.64,500.53 L132.96,500.40 L134.26,500.27 L135.56,500.14 L136.84,500.00 L138.11,499.87 L139.37,499.73 L140.62,499.59 L141.85,499.45 L143.08,499.31 L144.29,499.17 L145.49,499.03 L146.68,498.88 L147.86,498.74 L149.03,498.59 L150.19,498.44 L151.35,498.29 L152.49,498.14 L153.63,497.99 L154.75,497.83 L155.87,497.68 L156.97,497.52 L158.07,497.37 L159.15,497.21 L160.23,497.05 L161.30,496.89 L162.36,496.73 L163.42,496.56 L164.47,496.40 L165.51,496.23 L166.54,496.07 L167.57,495.90 L168.58,495.73 L169.59,495.56 L170.59,495.39 L171.58,495.21 L172.57,495.04 L173.55,494.86 L174.52,494.68 L175.49,494.51 L176.45,494.33 L177.40,494.15 L178.35,493.96 L179.29,493.78 L180.22,493.60 L181.15,493.41 L182.07,493.22 L182.98,493.04 L183.89,492.85 L184.79,492.65 L185.69,492.46 L186.58,492.27 L187.47,492.07 L188.35,491.88 L189.22,491.68 L190.09,491.48 L190.95,491.28 L191.81,491.08 L192.66,490.88 L193.51,490.68 L194.35,490.47 L195.19,490.27 L196.02,490.06 L196.85,489.85 L197.67,489.64 L198.49,489.43 L199.30,489.22 L200.11,489.01 L200.91,488.79 L201.71,488.58 L202.50,488.36 L203.29,488.14 L204.07,487.92 L204.85,487.70 L205.63,487.48 L206.40,487.25 L207.17,487.03 L207.93,486.80 L208.69,486.58 L209.44,486.35 L210.19,486.12 L210.94,485.89 L211.68,485.66 L212.42,485.42 L213.15,485.19 L213.88,484.95 L214.61,484.71 L215.33,484.48 L216.05,484.24 L216.77,484.00 L217.48,483.75 L218.19,483.51 L218.89,483.27 L219.59,483.02 L220.29,482.77 L220.98,482.52 L221.67,482.27 L222.36,482.02 L223.04,481.77 L223.72,481.52 L224.40,481.26 L225.07,481.01 L225.74,480.75 L226.41,480.49 L227.07,480.23 L227.73,479.97 L228.39,479.71 L229.04,479.45 L229.69,479.18 L230.34,478.92 L230.99,478.65 L231.63,478.38 L232.27,478.11 L232.90,477.84 L233.54,477.57 L234.17,477.29 L234.80,477.02 L235.42,476.74 L236.04,476.47 L236.66,476.19 L237.27,475.91 L237.89,475.63 L238.50,475.35 L239.11,475.06 L239.71,474.78 L240.31,474.49 L240.91,474.20 L241.51,473.92 L242.11,473.63 L242.70,473.34 L243.29,473.04 L243.87,472.75 L244.46,472.46 L245.04,472.16 L245.62,471.86 L246.20,471.56 L246.77,471.26 L247.35,470.96 L247.92,470.66 L248.48,470.36 L249.05,470.05 L249.61,469.75 L250.17,469.44 L250.73,469.13 L251.29,468.82 L251.84,468.51 L252.39,468.20 L252.94,467.88 L253.49,467.57 L254.04,467.25 L254.58,466.94 L255.12,466.62 L255.66,466.30 L256.20,465.98 L256.73,465.66 L257.26,465.33 L257.79,465.01 L258.32,464.68 L258.85,464.35 L259.37,464.03 L259.89,463.70 L260.42,463.37 L260.93,463.03 L261.45,462.70 L261.97,462.37 L262.48,462.03 L262.99,461.69 L263.50,461.35 L264.00,461.01 L264.51,460.67 L265.01,460.33 L265.51,459.99 L266.01,459.64 L266.51,459.30 L267.01,458.95 L267.50,458.60 L268.00,458.25 L268.49,457.90 L268.98,457.55 L269.46,457.19 L269.95,456.84 L270.43,456.48 L270.91,456.13 L271.39,455.77 L271.87,455.41 L272.35,455.05 L272.83,454.68 L273.30,454.32 L273.77,453.96 L274.24,453.59 L274.71,453.22 L275.18,452.85 L275.65,452.49 L276.11,452.11 L276.57,451.74 L277.03,451.37 L277.49,450.99 L277.95,450.62 L278.41,450.24 L278.86,449.86 L279.32,449.48 L279.77,449.10 L280.22,448.72 L280.67,448.34 L281.12,447.95 L281.56,447.56 L282.01,447.18 L282.45,446.79 L282.89,446.40 L283.33,446.01 L283.77,445.62 L284.21,445.22 L284.65,444.83 L285.08,444.43 L285.52,444.03 L285.95,443.64 L286.38,443.24 L286.81,442.83 L287.24,442.43 L287.66,442.03 L288.09,441.62 L288.51,441.22 L288.94,440.81 L289.36,440.40 L289.78,439.99 L290.20,439.58 L290.62,439.17 L291.03,438.76 L291.45,438.34 L291.86,437.93 L292.27,437.51 L292.69,437.09 L293.10,436.67 L293.51,436.25 L293.91,435.83 L294.32,435.40 L294.73,434.98 L295.13,434.55 L295.53,434.12 L295.93,433.70 L296.34,433.27 L296.74,432.83 L297.13,432.40 L297.53,431.97 L297.93,431.53 L298.32,431.10 L298.72,430.66 L299.11,430.22 L299.50,429.78 L299.89,429.34 L300.28,428.90 L300.67,428.46 L301.06,428.01 L301.44,427.56 L301.83,427.12 L302.21,426.67 L302.59,426.22 L302.98,425.77 L303.36,425.32 L303.74,424.86 L304.12,424.41 L304.49,423.95 L304.87,423.49 L305.25,423.04 L305.62,422.58 L305.99,422.11 L306.37,421.65 L306.74,421.19 L307.11,420.72 L307.48,420.26 L307.85,419.79 L308.21,419.32 L308.58,418.85 L308.95,418.38 L309.31,417.91 L309.68,417.43 L310.04,416.96 L310.40,416.48 L310.76,416.01 L311.12,415.53 L311.48,415.05 L311.84,414.57 L312.19,414.08 L312.55,413.60 L312.91,413.12 L313.26,412.63 L313.61,412.14 L313.97,411.65 L314.32,411.16 L314.67,410.67 L315.02,410.18 L315.37,409.69 L315.72,409.19 L316.06,408.70 L316.41,408.20 L316.76,407.70 L317.10,407.20 L317.44,406.70 L317.79,406.20 L318.13,405.69 L318.47,405.19 L318.81,404.68 L319.15,404.17 L319.49,403.67 L319.83,403.16 L320.16,402.64 L320.50,402.13 L320.83,401.62 L321.17,401.10 L321.50,400.59 L321.84,400.07 L322.17,399.55 L322.50,399.03 L322.83,398.51 L323.16,397.99 L323.49,397.46 L323.82,396.94 L324.14,396.41 L324.47,395.89 L324.80,395.36 L325.12,394.83 L325.45,394.30 L325.77,393.76 L326.09,393.23 L326.41,392.70 L326.74,392.16 L327.06,391.62 L327.38,391.08 L327.69,390.54 L328.01,390.00 L328.33,389.46 L328.65,388.92 L328.96,388.37 L329.28,387.83 L329.59,387.28 L329.91,386.73 L330.22,386.18 L330.53,385.63 L330.85,385.08 L331.16,384.52 L331.47,383.97 L331.78,383.41 L332.09,382.85 L332.39,382.29 L332.70,381.73 L333.01,381.17 L333.31,380.61 L333.62,380.05 L333.93,379.48 L334.23,378.92 L334.53,378.35 L334.84,377.78 L335.14,377.21 L335.44,376.64 L335.74,376.07 L336.04,375.49 L336.34,374.92 L336.64,374.34 L336.94,373.76 L337.24,373.19 L337.53,372.61 L337.83,372.02 L338.12,371.44 L338.42,370.86 L338.71,370.27 L339.02,369.66 L339.34,369.01 L339.67,368.34 L340.01,367.65 L340.35,366.96 L340.68,366.28 L341.00,365.63 L341.30,365.01 L341.58,364.44 L341.82,363.93 L342.03,363.50 L342.20,363.16" stroke="#3392b0" stroke-width="1.4" fill="none"/>
<circle cx="296.1" cy="10.6" r="1.9" fill="none" stroke="#000" stroke-width="0.9"/><circle cx="296.1" cy="10.6" r="0.55" fill="#000"/>
<circle cx="294.85" cy="286.3" r="1.9" fill="none" stroke="#000" stroke-width="0.9"/><circle cx="294.85" cy="286.3" r="0.55" fill="#000"/>
<text transform="translate(19.60 230.50) rotate(0.3)" x="0" y="3.17" font-size="8.8" text-anchor="middle" font-weight="normal" fill="#1a1a1a" stroke="#1a1a1a" stroke-width="0.25" textLength="4.86" lengthAdjust="spacingAndGlyphs">0</text>
<text transform="translate(19.60 178.10) rotate(0.3)" x="0" y="3.17" font-size="8.8" text-anchor="middle" font-weight="normal" fill="#1a1a1a" stroke="#1a1a1a" stroke-width="0.25" textLength="4.86" lengthAdjust="spacingAndGlyphs">5</text>
<text transform="translate(17.30 125.20) rotate(0.3)" x="0" y="3.17" font-size="8.8" text-anchor="middle" font-weight="normal" fill="#1a1a1a" stroke="#1a1a1a" stroke-width="0.25" textLength="9.50" lengthAdjust="spacingAndGlyphs">10</text>
<text transform="translate(17.30 72.80) rotate(0.3)" x="0" y="3.17" font-size="8.8" text-anchor="middle" font-weight="normal" fill="#1a1a1a" stroke="#1a1a1a" stroke-width="0.25" textLength="9.50" lengthAdjust="spacingAndGlyphs">15</text>
<text transform="translate(17.30 19.90) rotate(0.3)" x="0" y="3.17" font-size="8.8" text-anchor="middle" font-weight="normal" fill="#1a1a1a" stroke="#1a1a1a" stroke-width="0.25" textLength="9.50" lengthAdjust="spacingAndGlyphs">20</text>
<text transform="translate(19.60 506.90) rotate(0.3)" x="0" y="3.17" font-size="8.8" text-anchor="middle" font-weight="normal" fill="#1a1a1a" stroke="#1a1a1a" stroke-width="0.25" textLength="4.86" lengthAdjust="spacingAndGlyphs">0</text>
<text transform="translate(17.30 454.20) rotate(0.3)" x="0" y="3.17" font-size="8.8" text-anchor="middle" font-weight="normal" fill="#1a1a1a" stroke="#1a1a1a" stroke-width="0.25" textLength="9.50" lengthAdjust="spacingAndGlyphs">10</text>
<text transform="translate(17.30 401.50) rotate(0.3)" x="0" y="3.17" font-size="8.8" text-anchor="middle" font-weight="normal" fill="#1a1a1a" stroke="#1a1a1a" stroke-width="0.25" textLength="9.50" lengthAdjust="spacingAndGlyphs">20</text>
<text transform="translate(17.30 348.80) rotate(0.3)" x="0" y="3.17" font-size="8.8" text-anchor="middle" font-weight="normal" fill="#1a1a1a" stroke="#1a1a1a" stroke-width="0.25" textLength="9.50" lengthAdjust="spacingAndGlyphs">30</text>
<text transform="translate(17.30 296.10) rotate(0.3)" x="0" y="3.17" font-size="8.8" text-anchor="middle" font-weight="normal" fill="#1a1a1a" stroke="#1a1a1a" stroke-width="0.25" textLength="9.50" lengthAdjust="spacingAndGlyphs">40</text>
<text transform="translate(25.50 242.70) rotate(0.3)" x="0" y="3.17" font-size="8.8" text-anchor="middle" font-weight="normal" fill="#1a1a1a" stroke="#1a1a1a" stroke-width="0.25" textLength="16.24" lengthAdjust="spacingAndGlyphs">0.01</text>
<text transform="translate(183.80 241.50) rotate(0.3)" x="0" y="3.17" font-size="8.8" text-anchor="middle" font-weight="normal" fill="#1a1a1a" stroke="#1a1a1a" stroke-width="0.25" textLength="15.22" lengthAdjust="spacingAndGlyphs">0.10</text>
<text transform="translate(342.00 241.80) rotate(0.3)" x="0" y="3.17" font-size="8.8" text-anchor="middle" font-weight="normal" fill="#1a1a1a" stroke="#1a1a1a" stroke-width="0.25" textLength="15.22" lengthAdjust="spacingAndGlyphs">1.00</text>
<text transform="translate(24.60 518.50) rotate(0.3)" x="0" y="3.17" font-size="8.8" text-anchor="middle" font-weight="normal" fill="#1a1a1a" stroke="#1a1a1a" stroke-width="0.25" textLength="16.03" lengthAdjust="spacingAndGlyphs">0.01</text>
<text transform="translate(183.30 518.10) rotate(0.3)" x="0" y="3.17" font-size="8.8" text-anchor="middle" font-weight="normal" fill="#1a1a1a" stroke="#1a1a1a" stroke-width="0.25" textLength="15.03" lengthAdjust="spacingAndGlyphs">0.03</text>
<text transform="translate(342.00 519.10) rotate(0.3)" x="0" y="3.17" font-size="8.8" text-anchor="middle" font-weight="normal" fill="#1a1a1a" stroke="#1a1a1a" stroke-width="0.25" textLength="16.03" lengthAdjust="spacingAndGlyphs">0.10</text>
<text transform="translate(200.80 259.30) rotate(0.3)" x="0" y="0.00" font-size="9" text-anchor="middle" font-weight="bold" fill="#000" stroke="#000" stroke-width="0.25" textLength="26.23" lengthAdjust="spacingAndGlyphs"><tspan font-family="Liberation Serif" font-style="italic" font-size="10.5">a</tspan> (AU)</text>
<text transform="translate(200.80 534.30) rotate(0.3)" x="0" y="0.00" font-size="9" text-anchor="middle" font-weight="bold" fill="#000" stroke="#000" stroke-width="0.25" textLength="26.23" lengthAdjust="spacingAndGlyphs"><tspan font-family="Liberation Serif" font-style="italic" font-size="10.5">a</tspan> (AU)</text>
<text transform="translate(4.10 126.75) rotate(-90)" x="0" y="3.53" font-size="9.8" text-anchor="middle" font-weight="bold" fill="#000" stroke="#000" stroke-width="0.3" textLength="82.01" lengthAdjust="spacingAndGlyphs">Greenhouse&#160; Factor</text>
<text transform="translate(4.10 401.50) rotate(-90)" x="0" y="3.53" font-size="9.8" text-anchor="middle" font-weight="bold" fill="#000" stroke="#000" stroke-width="0.3" textLength="82.01" lengthAdjust="spacingAndGlyphs">Greenhouse&#160; Factor</text>
<text transform="translate(123.95 10.60) rotate(0.3)" x="0" y="0.00" font-size="9.2" text-anchor="middle" font-weight="bold" fill="#000" stroke="#000" stroke-width="0.3" textLength="70.24" lengthAdjust="spacingAndGlyphs">Bio-habitabilitay</text>
<text transform="translate(187.95 10.60) rotate(0.3)" x="0" y="0.00" font-size="9.2" text-anchor="middle" font-weight="bold" fill="#000" stroke="#000" stroke-width="0.3" textLength="48.61" lengthAdjust="spacingAndGlyphs">greenhouse</text>
<text transform="translate(228.50 10.60) rotate(0.3)" x="0" y="0.00" font-size="9.2" text-anchor="middle" font-weight="bold" fill="#000" stroke="#000" stroke-width="0.3" textLength="27.89" lengthAdjust="spacingAndGlyphs">ranges</text>
<text transform="translate(253.00 10.60) rotate(0.3)" x="0" y="0.00" font-size="9.2" text-anchor="middle" font-weight="bold" fill="#000" stroke="#000" stroke-width="0.3" textLength="9.69" lengthAdjust="spacingAndGlyphs">for</text>
<text transform="translate(277.50 10.60) rotate(0.3)" x="0" y="0.00" font-size="9.2" text-anchor="middle" font-weight="bold" fill="#000" stroke="#000" stroke-width="0.3" textLength="32.32" lengthAdjust="spacingAndGlyphs">L=0.01L</text>
<text transform="translate(124.65 286.30) rotate(0.3)" x="0" y="0.00" font-size="9.2" text-anchor="middle" font-weight="bold" fill="#000" stroke="#000" stroke-width="0.3" textLength="70.44" lengthAdjust="spacingAndGlyphs">Bio-habitabilitay</text>
<text transform="translate(188.45 286.30) rotate(0.3)" x="0" y="0.00" font-size="9.2" text-anchor="middle" font-weight="bold" fill="#000" stroke="#000" stroke-width="0.3" textLength="46.81" lengthAdjust="spacingAndGlyphs">greenhouse</text>
<text transform="translate(228.85 286.30) rotate(0.3)" x="0" y="0.00" font-size="9.2" text-anchor="middle" font-weight="bold" fill="#000" stroke="#000" stroke-width="0.3" textLength="28.86" lengthAdjust="spacingAndGlyphs">ranges</text>
<text transform="translate(252.10 286.30) rotate(0.3)" x="0" y="0.00" font-size="9.2" text-anchor="middle" font-weight="bold" fill="#000" stroke="#000" stroke-width="0.3" textLength="11.20" lengthAdjust="spacingAndGlyphs">for</text>
<text transform="translate(272.70 286.30) rotate(0.3)" x="0" y="0.00" font-size="9.2" text-anchor="middle" font-weight="bold" fill="#000" stroke="#000" stroke-width="0.3" textLength="18.30" lengthAdjust="spacingAndGlyphs">L=10</text>
<text transform="translate(290.70 286.30) rotate(0.3)" x="0" y="0.00" font-size="9.2" text-anchor="middle" font-weight="bold" fill="#000" stroke="#000" stroke-width="0.3" textLength="3.68" lengthAdjust="spacingAndGlyphs">L</text>
<text transform="translate(284.80 280.20) rotate(0.3)" x="0" y="2.16" font-size="6.0" text-anchor="middle" font-weight="bold" fill="#000" textLength="5.98" lengthAdjust="spacingAndGlyphs">&#8722;4</text>
<text transform="translate(162.55 114.85) rotate(-60)" x="0" y="3.10" font-size="8.6" text-anchor="middle" font-weight="normal" fill="#ff0000" stroke="#ff0000" stroke-width="0.15" textLength="17.00" lengthAdjust="spacingAndGlyphs">f=0.2</text>
<text transform="translate(191.90 129.60) rotate(-57)" x="0" y="3.10" font-size="8.6" text-anchor="middle" font-weight="normal" fill="#ff0000" stroke="#ff0000" stroke-width="0.15" textLength="16.50" lengthAdjust="spacingAndGlyphs">f=0.5</text>
<text transform="translate(211.00 141.20) rotate(-58)" x="0" y="3.10" font-size="8.6" text-anchor="middle" font-weight="normal" fill="#ff0000" stroke="#ff0000" stroke-width="0.15" textLength="11.50" lengthAdjust="spacingAndGlyphs">f=1</text>
<text transform="translate(153.00 184.50) rotate(-46)" x="0" y="3.38" font-size="9.4" text-anchor="middle" font-weight="bold" fill="#ff0000" stroke="#ff0000" stroke-width="0.2" textLength="34.00" lengthAdjust="spacingAndGlyphs">max&#160; GH</text>
<text transform="translate(243.80 156.60) rotate(-55)" x="0" y="3.10" font-size="8.6" text-anchor="middle" font-weight="normal" fill="#1a6fcf" stroke="#1a6fcf" stroke-width="0.15" textLength="11.50" lengthAdjust="spacingAndGlyphs">f=1</text>
<text transform="translate(248.00 192.40) rotate(-46)" x="0" y="3.42" font-size="9.5" text-anchor="middle" font-weight="bold" fill="#1a6fcf" stroke="#1a6fcf" stroke-width="0.2" textLength="27.50" lengthAdjust="spacingAndGlyphs">min GH</text>
<text transform="translate(273.80 168.30) rotate(-60)" x="0" y="3.10" font-size="8.6" text-anchor="middle" font-weight="normal" fill="#1a6fcf" stroke="#1a6fcf" stroke-width="0.15" textLength="16.50" lengthAdjust="spacingAndGlyphs">f=0.5</text>
<text transform="translate(294.00 176.90) rotate(-60)" x="0" y="3.10" font-size="8.6" text-anchor="middle" font-weight="normal" fill="#1a6fcf" stroke="#1a6fcf" stroke-width="0.15" textLength="17.00" lengthAdjust="spacingAndGlyphs">f=0.2</text>
<text transform="translate(65.00 336.20) rotate(-55)" x="0" y="3.10" font-size="8.6" text-anchor="middle" font-weight="normal" fill="#ff0000" stroke="#ff0000" stroke-width="0.15" textLength="17.00" lengthAdjust="spacingAndGlyphs">f=0.2</text>
<text transform="translate(112.10 367.10) rotate(-52)" x="0" y="3.10" font-size="8.6" text-anchor="middle" font-weight="normal" fill="#ff0000" stroke="#ff0000" stroke-width="0.15" textLength="17.00" lengthAdjust="spacingAndGlyphs">f=0.5</text>
<text transform="translate(146.40 394.80) rotate(-50)" x="0" y="3.10" font-size="8.6" text-anchor="middle" font-weight="normal" fill="#ff0000" stroke="#ff0000" stroke-width="0.15" textLength="11.50" lengthAdjust="spacingAndGlyphs">f=1</text>
<text transform="translate(81.00 409.90) rotate(-50)" x="0" y="3.35" font-size="9.3" text-anchor="middle" font-weight="bold" fill="#ff0000" stroke="#ff0000" stroke-width="0.2" textLength="33.00" lengthAdjust="spacingAndGlyphs">max&#160; Hg</text>
<text transform="translate(202.30 431.20) rotate(-50)" x="0" y="3.10" font-size="8.6" text-anchor="middle" font-weight="normal" fill="#1a6fcf" stroke="#1a6fcf" stroke-width="0.15" textLength="11.50" lengthAdjust="spacingAndGlyphs">f=1</text>
<text transform="translate(186.90 471.70) rotate(-26)" x="0" y="3.42" font-size="9.5" text-anchor="middle" font-weight="bold" fill="#1a6fcf" stroke="#1a6fcf" stroke-width="0.2" textLength="26.50" lengthAdjust="spacingAndGlyphs">min Hg</text>
<text transform="translate(241.40 452.80) rotate(-52)" x="0" y="3.10" font-size="8.6" text-anchor="middle" font-weight="normal" fill="#1a6fcf" stroke="#1a6fcf" stroke-width="0.15" textLength="17.00" lengthAdjust="spacingAndGlyphs">f=0.5</text>
<text transform="translate(268.80 471.00) rotate(-55)" x="0" y="3.10" font-size="8.6" text-anchor="middle" font-weight="normal" fill="#1a6fcf" stroke="#1a6fcf" stroke-width="0.15" textLength="17.00" lengthAdjust="spacingAndGlyphs">f=0.2</text>
<text transform="translate(38.25 523.25) rotate(90)" x="0" y="3.17" font-size="8.8" text-anchor="middle" font-weight="bold" fill="#000" stroke="#000" stroke-width="0.25" textLength="18.54" lengthAdjust="spacingAndGlyphs">Trp b</text>
<text transform="translate(127.60 522.10) rotate(90)" x="0" y="3.17" font-size="8.8" text-anchor="middle" font-weight="bold" fill="#000" stroke="#000" stroke-width="0.25" textLength="18.85" lengthAdjust="spacingAndGlyphs">Trp d</text>
<text transform="translate(232.25 522.50) rotate(90)" x="0" y="3.17" font-size="8.8" text-anchor="middle" font-weight="bold" fill="#000" stroke="#000" stroke-width="0.25" textLength="18.00" lengthAdjust="spacingAndGlyphs">Trp g</text>
<text transform="translate(243.50 521.10) rotate(90)" x="0" y="3.17" font-size="8.8" text-anchor="middle" font-weight="bold" fill="#000" stroke="#000" stroke-width="0.25" textLength="19.05" lengthAdjust="spacingAndGlyphs">Prx b</text>
</svg>
</body></html>
